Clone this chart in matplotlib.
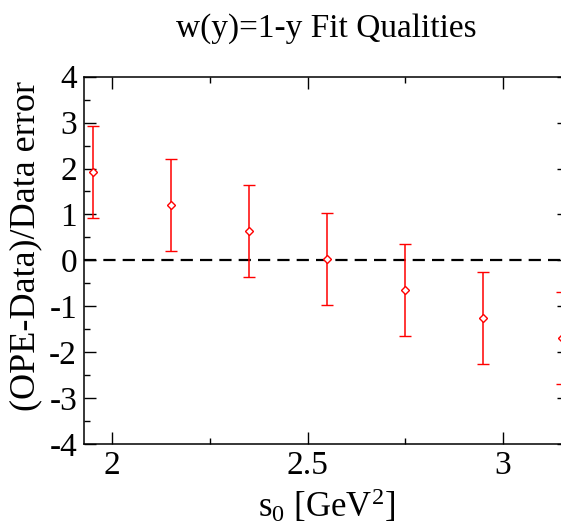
import numpy as np
import matplotlib as mp
mp.use('Agg')
import matplotlib.pyplot as plt
from matplotlib.ticker import MultipleLocator

plt.rc('font', family='Liberation Serif')
plt.rc('mathtext', fontset='custom', rm='Liberation Serif', it='Liberation Serif:italic')

# fit qualities vs s0
s0 = [1.95, 2.15, 2.35, 2.55, 2.75, 2.95, 3.15]
quality = [1.92, 1.21, 0.64, 0.03, -0.65, -1.26, -1.69]
qerr = [1.0, 1.0, 1.0, 1.0, 1.0, 1.0, 1.0]

fig = plt.figure(figsize=(5.61, 5.31), dpi=100)
ax1 = fig.add_axes([84/561., 87/531., 485./561., 367.3/531.])

ax1.axhline(0., color='k', ls=(0, (5.5, 3.2)), lw=1.6)
ax1.errorbar(s0, quality, yerr=qerr, fmt='D', color='red', ms=4.2, mfc='white',
             mec='red', mew=1.0, elinewidth=1.1, capsize=4.5, capthick=1.1)

ax1.axis([1.928, 3.169, -4., 4.])
ax1.xaxis.set_major_locator(MultipleLocator(0.5))
ax1.xaxis.set_minor_locator(MultipleLocator(0.25))
ax1.yaxis.set_major_locator(MultipleLocator(1))
ax1.yaxis.set_minor_locator(MultipleLocator(0.5))
ax1.xaxis.set_major_formatter(mp.ticker.FuncFormatter(lambda v, p: '%g' % v))
ax1.yaxis.set_major_formatter(mp.ticker.FuncFormatter(lambda v, p: '%g' % v))

ax1.tick_params(which='both', direction='in', top=True, right=True, labelsize=24, width=1.0)
ax1.tick_params(which='major', length=8.5, pad=5)
ax1.tick_params(which='minor', length=4.5)
for sp in ax1.spines.values():
    sp.set_linewidth(1.1)

ax1.set_xlabel(r'$\mathregular{s_0}$ [GeV$\mathregular{^2}$]', fontsize=25, labelpad=4)
ax1.set_ylabel('(OPE-Data)/Data error', fontsize=26)
ax1.yaxis.set_label_coords(-0.086, 0.538)
ax1.set_title('w(y)=1-y Fit Qualities', fontsize=24, pad=29)

plt.savefig('out.png', dpi=100)
